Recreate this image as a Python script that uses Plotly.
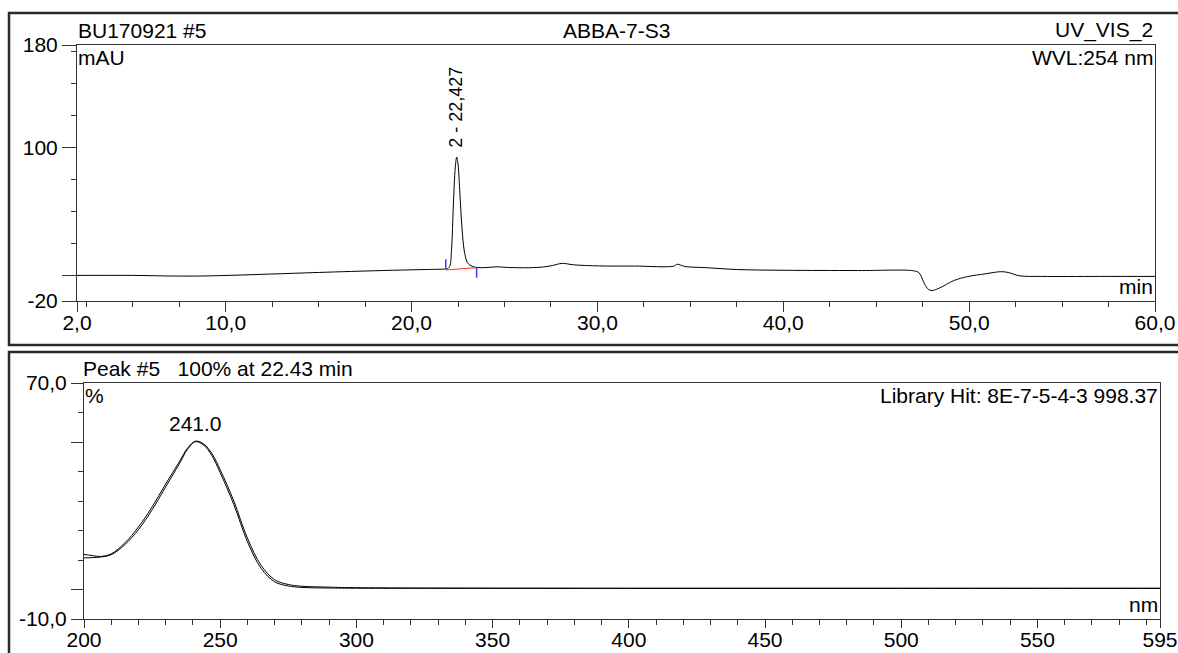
import plotly.graph_objects as go

W, H = 1178, 653
FONT = "Liberation Sans, Arial, sans-serif"

# --- chromatogram BU170921 #5, UV_VIS_2, WVL 254 nm ---
time_min = [2.0, 5.0, 7.3, 9.0, 12.3, 15.0, 18.4, 20.5, 21.7, 21.9, 22.05, 22.15,
            22.25, 22.35, 22.43, 22.5, 22.6, 22.7, 22.8, 22.9, 23.0, 23.2, 23.5,
            24.0, 24.6, 25.2, 26.3, 27.1, 27.6, 28.1, 28.7, 30.1, 32.0, 34.1,
            34.3, 34.7, 35.9, 37.5, 40.1, 44.0, 47.0, 47.3, 47.6, 47.8, 48.0,
            48.4, 49.2, 49.9, 50.9, 51.7, 52.1, 52.7, 53.9, 57.0, 60.0]
signal_mau = [0.0, 0.0, -0.5, -0.4, 1.0, 2.3, 3.8, 4.5, 4.9, 5.1, 7.0, 20.0,
              55.0, 84.0, 92.5, 87.0, 64.0, 40.0, 23.0, 14.5, 10.0, 7.5, 6.2,
              6.1, 6.7, 6.2, 6.0, 6.6, 7.8, 9.4, 8.3, 7.4, 7.3, 7.2,
              8.7, 7.0, 6.0, 4.6, 4.0, 3.8, 3.6, 2.1, -6.6, -10.8, -11.8,
              -9.9, -3.9, -1.0, 1.3, 2.9, 2.3, -0.3, -0.8, -0.8, -0.8]

# peak 2 integration: delimiters and baseline
peak_rt = 22.427
peak_label = "2 - 22,427"
delim_time = [21.84, 23.5]
delim_low = [4.8, -1.8]
delim_high = [12.6, 6.0]
base_mau = [4.3, 6.0]

# --- UV spectrum of peak #5 and library hit ---
wavelength_nm = [200, 203, 206, 210, 215, 220, 225, 230, 235, 238, 241, 244, 247,
                 250, 255, 260, 265, 270, 275, 280, 290, 300, 350, 400, 450, 500,
                 550, 595]
spectrum_peak = [10.7, 10.8, 11.0, 11.8, 15.2, 20.3, 27.0, 34.8, 42.6, 47.5, 50.1,
                 48.9, 45.3, 39.6, 28.8, 16.2, 7.2, 2.6, 1.2, 0.7, 0.5, 0.45, 0.4,
                 0.4, 0.4, 0.4, 0.4, 0.4]
spectrum_library = [11.9, 11.5, 11.2, 12.1, 15.8, 21.2, 28.0, 35.8, 43.3, 47.9, 50.3,
                    49.3, 46.0, 40.6, 30.0, 17.4, 8.2, 3.3, 1.7, 1.1, 0.8, 0.6, 0.45,
                    0.4, 0.4, 0.4, 0.4, 0.4]
lambda_max = 241.0

# --- ticks ---
chrom_major = [2, 10, 20, 30, 40, 50, 60]
chrom_major_text = ["2,0", "10,0", "20,0", "30,0", "40,0", "50,0", "60,0"]
chrom_minor = [2.5, 5, 7.5, 12.5, 15, 17.5, 22.5, 25, 27.5, 32.5, 35, 37.5,
               42.5, 45, 47.5, 52.5, 55, 57.5]
mau_ticks = [-20, 0, 100, 180]
mau_text = ["-20", "", "100", "180"]
mau_minor = [25, 50, 75, 125, 150, 175]
nm_major = [200, 250, 300, 350, 400, 450, 500, 550, 595]
nm_text = ["200", "250", "300", "350", "400", "450", "500", "550", "595"]
nm_minor = [210, 220, 230, 240, 260, 270, 280, 290, 310, 320, 330, 340, 360, 370,
            380, 390, 410, 420, 430, 440, 460, 470, 480, 490, 510, 520, 530, 540,
            560, 570, 580, 590]
pct_ticks = [-10, 0, 50, 70]
pct_text = ["-10,0", "", "", "70,0"]
pct_minor = [10, 20, 30, 40, 60]


def px(x):
    return x / W


def py(y):
    return 1 - y / H


fig = go.Figure()

line = dict(color="black", width=1)
fig.add_trace(go.Scatter(x=time_min, y=signal_mau, mode="lines", line=line,
                         line_shape="spline", xaxis="x", yaxis="y"))
fig.add_trace(go.Scatter(x=delim_time, y=base_mau, mode="lines",
                         line=dict(color="#ff3030", width=1), xaxis="x", yaxis="y"))
for t, lo, hi in zip(delim_time, delim_low, delim_high):
    fig.add_trace(go.Scatter(x=[t, t], y=[lo, hi], mode="lines",
                             line=dict(color="#3040f0", width=1.5), xaxis="x", yaxis="y"))

fig.add_trace(go.Scatter(x=wavelength_nm, y=spectrum_library, mode="lines", line=line,
                         line_shape="spline", xaxis="x2", yaxis="y2"))
fig.add_trace(go.Scatter(x=wavelength_nm, y=spectrum_peak, mode="lines", line=line,
                         line_shape="spline", xaxis="x2", yaxis="y2"))

axis_common = dict(showline=True, mirror=True, linecolor="#333", linewidth=1,
                   showgrid=False, zeroline=False, ticks="outside", tickcolor="#333",
                   automargin=False,
                   tickfont=dict(family=FONT, size=21, color="black"), fixedrange=True)

fig.update_layout(
    width=W, height=H, showlegend=False,
    margin=dict(l=0, r=0, t=0, b=0, autoexpand=False),
    paper_bgcolor="white", plot_bgcolor="white",
    xaxis=dict(axis_common, domain=[px(77), px(1155)], range=[2, 60], anchor="y",
               tickmode="array", tickvals=chrom_major, ticktext=chrom_major_text,
               ticklen=10, ticklabelstandoff=-7,
               minor=dict(tickvals=chrom_minor, ticklen=5, ticks="outside",
                          tickcolor="#333")),
    yaxis=dict(axis_common, domain=[py(301), py(45)], range=[-20, 180], anchor="x",
               tickmode="array", tickvals=mau_ticks, ticktext=mau_text, ticklen=14,
               minor=dict(tickvals=mau_minor, ticklen=5, ticks="outside",
                          tickcolor="#333")),
    xaxis2=dict(axis_common, domain=[px(84), px(1160)], range=[200, 595], anchor="y2",
                tickmode="array", tickvals=nm_major, ticktext=nm_text, ticklen=8,
                ticklabelstandoff=-6,
                minor=dict(tickvals=nm_minor, ticklen=5, ticks="outside",
                           tickcolor="#333")),
    yaxis2=dict(axis_common, domain=[py(619), py(383)], range=[-10, 70], anchor="x2",
                tickmode="array", tickvals=pct_ticks, ticktext=pct_text, ticklen=12,
                minor=dict(tickvals=pct_minor, ticklen=5, ticks="outside",
                           tickcolor="#333")),
)

# outer frames of the two report panels
frame = dict(type="rect", xref="paper", yref="paper", line=dict(color="#2a2a2a", width=2.5),
             fillcolor="rgba(0,0,0,0)", layer="above")
fig.add_shape(frame, x0=px(9), x1=px(1190), y0=py(345), y1=py(13))
fig.add_shape(frame, x0=px(9), x1=px(1190), y0=py(665), y1=py(352))

txt = dict(family=FONT, size=21, color="black")
notes = [
    dict(text="BU170921 #5", x=px(77), y=py(43), xanchor="left", yanchor="bottom"),
    dict(text="ABBA-7-S3", x=px(616), y=py(43), xanchor="center", yanchor="bottom"),
    dict(text="UV_VIS_2", x=px(1154), y=py(43), xanchor="right", yanchor="bottom"),
    dict(text="mAU", x=px(77), y=py(45), xanchor="left", yanchor="top"),
    dict(text="WVL:254 nm", x=px(1154), y=py(45), xanchor="right", yanchor="top"),
    dict(text="min", x=px(1154), y=py(299), xanchor="right", yanchor="bottom"),
    dict(text="Peak\u00a0#5\u00a0\u00a0\u00a0100% at 22.43 min", x=px(82), y=py(381),
         xanchor="left", yanchor="bottom"),
    dict(text="%", x=px(84), y=py(383), xanchor="left", yanchor="top"),
    dict(text="Library Hit: 8E-7-5-4-3 998.37", x=px(1159), y=py(383),
         xanchor="right", yanchor="top"),
    dict(text="nm", x=px(1159), y=py(617), xanchor="right", yanchor="bottom"),
]
for n in notes:
    fig.add_annotation(n, xref="paper", yref="paper", showarrow=False, font=txt,
                       borderpad=0)

fig.add_annotation(text=peak_label, x=peak_rt, y=99, xref="x", yref="y",
                   textangle=-90, xanchor="center", yanchor="bottom", showarrow=False,
                   font=dict(family=FONT, size=18, color="black"), borderpad=0)
fig.add_annotation(text=f"{lambda_max:.1f}", x=lambda_max, y=52, xref="x2", yref="y2",
                   xanchor="center", yanchor="bottom", showarrow=False, font=txt,
                   borderpad=0)

# the page body has a default 8px margin; drop it so the figure fills the window
fig.write_html("out.html", config={"displayModeBar": False},
               post_script="document.body.style.margin='0';"
                           "document.body.style.overflow='hidden';")
